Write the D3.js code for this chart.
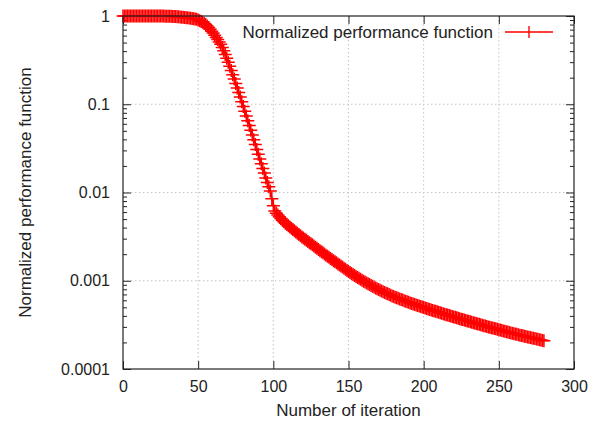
<!DOCTYPE html>
<html>
<head>
<meta charset="utf-8">
<script src="https://cdn.jsdelivr.net/npm/d3@7"></script>
<style>
  html, body { margin: 0; padding: 0; background: #fff; }
  svg { display: block; font-family: "Liberation Sans", Arial, Helvetica, sans-serif; }
</style>
</head>
<body>
<svg id="chart" width="600" height="423"></svg>
<script>
// Normalized performance function per training iteration (log scale)
const performance = [
  1, 1, 1, 1, 1, 1, 1, 1, 1, 1,
  1, 1, 1, 1, 1, 1, 1, 1, 1, 1,
  1, 1, 1, 1, 1, 0.999, 0.998, 0.997, 0.996, 0.995,
  0.994, 0.993, 0.992, 0.990, 0.987, 0.985, 0.982, 0.978, 0.975, 0.971,
  0.966, 0.962, 0.957, 0.953, 0.948, 0.944, 0.938, 0.931, 0.923, 0.916,
  0.902, 0.885, 0.867, 0.847, 0.824, 0.800, 0.771, 0.740, 0.706, 0.673,
  0.640, 0.605, 0.571, 0.540, 0.508, 0.479, 0.441, 0.403, 0.366, 0.332,
  0.299, 0.269, 0.242, 0.216, 0.193, 0.172, 0.153, 0.136, 0.121, 0.107,
  0.0944, 0.0834, 0.0736, 0.0650, 0.0574, 0.0507, 0.0448, 0.0395, 0.0349, 0.0308,
  0.0272, 0.0240, 0.0212, 0.0187, 0.0166, 0.0146, 0.0130, 0.0116, 0.0104, 0.00851,
  0.00708, 0.00617, 0.00582, 0.00556, 0.00531, 0.00507, 0.00484, 0.00465, 0.00449, 0.00435,
  0.00420, 0.00406, 0.00394, 0.00381, 0.00368, 0.00356, 0.00345, 0.00334, 0.00324, 0.00314,
  0.00305, 0.00296, 0.00287, 0.00279, 0.00270, 0.00262, 0.00255, 0.00247, 0.00240, 0.00233,
  0.00226, 0.00219, 0.00213, 0.00207, 0.00201, 0.00195, 0.00190, 0.00185, 0.00179, 0.00174,
  0.00169, 0.00164, 0.00160, 0.00155, 0.00151, 0.00147, 0.00143, 0.00139, 0.00135, 0.00131,
  0.00127, 0.00124, 0.00121, 0.00118, 0.00115, 0.00112, 0.00109, 0.00107, 0.00104, 0.00101,
  0.000989, 0.000967, 0.000946, 0.000926, 0.000906, 0.000886, 0.000867, 0.000848, 0.000830, 0.000812,
  0.000794, 0.000780, 0.000766, 0.000752, 0.000738, 0.000724, 0.000711, 0.000698, 0.000685, 0.000673,
  0.000661, 0.000651, 0.000641, 0.000632, 0.000622, 0.000613, 0.000604, 0.000595, 0.000586, 0.000577,
  0.000569, 0.000561, 0.000554, 0.000546, 0.000539, 0.000532, 0.000525, 0.000518, 0.000511, 0.000504,
  0.000498, 0.000491, 0.000485, 0.000479, 0.000473, 0.000467, 0.000461, 0.000455, 0.000450, 0.000444,
  0.000439, 0.000433, 0.000428, 0.000423, 0.000418, 0.000413, 0.000408, 0.000403, 0.000398, 0.000394,
  0.000389, 0.000385, 0.000380, 0.000376, 0.000372, 0.000367, 0.000363, 0.000359, 0.000355, 0.000351,
  0.000347, 0.000343, 0.000339, 0.000335, 0.000332, 0.000328, 0.000324, 0.000321, 0.000317, 0.000314,
  0.000310, 0.000307, 0.000304, 0.000300, 0.000297, 0.000294, 0.000291, 0.000288, 0.000285, 0.000282,
  0.000279, 0.000276, 0.000273, 0.000270, 0.000267, 0.000265, 0.000262, 0.000259, 0.000256, 0.000254,
  0.000251, 0.000249, 0.000247, 0.000244, 0.000242, 0.000240, 0.000238, 0.000235, 0.000233, 0.000231,
  0.000229, 0.000227, 0.000225, 0.000223, 0.000221, 0.000219, 0.000217, 0.000215, 0.000213, 0.000211,
  0.000209
];
// Iteration number of each entry
const iterations = d3.range(performance.length);

const xTicks = [0, 50, 100, 150, 200, 250, 300];
const yTicks = [1, 0.1, 0.01, 0.001, 0.0001];
const yTickLabels = ["1", "0.1", "0.01", "0.001", "0.0001"];

const seriesName = "Normalized performance function";
const xTitle = "Number of iteration";
const yTitle = "Normalized performance function";

const margin = { left: 123, right: 26, top: 16, bottom: 54 };
const W = 600, H = 423;
const svg = d3.select("#chart");

const x = d3.scaleLinear().domain([0, 300]).range([margin.left, W - margin.right]);
const y = d3.scaleLog().domain([0.0001, 1]).range([H - margin.bottom, margin.top]);

const x0 = x.range()[0], x1 = x.range()[1];
const y0 = y.range()[0], y1 = y.range()[1];
const textColor = "#222";
const red = "#ff0000";

// dotted grid at inner major ticks
const grid = svg.append("g").attr("stroke", "#c4c4c4").attr("stroke-width", 1)
  .attr("stroke-dasharray", "1.5,2.5");
grid.selectAll("line.gx").data(xTicks.slice(1, -1)).join("line")
  .attr("x1", d => x(d)).attr("x2", d => x(d))
  .attr("y1", y1).attr("y2", y0);
grid.selectAll("line.gy").data(yTicks.slice(1, -1)).join("line")
  .attr("x1", x0).attr("x2", x1)
  .attr("y1", d => y(d)).attr("y2", d => y(d));

// axes with inward ticks
const tickFont = 16;
const titleFont = 17;
const bottomAxis = svg.append("g").attr("transform", `translate(0,${y0})`)
  .call(d3.axisBottom(x).tickValues(xTicks).tickSizeInner(-8).tickSizeOuter(0).tickPadding(12));
const topAxis = svg.append("g").attr("transform", `translate(0,${y1})`)
  .call(d3.axisTop(x).tickValues(xTicks).tickSizeInner(-8).tickSizeOuter(0).tickFormat(""));
const leftAxis = svg.append("g").attr("transform", `translate(${x0},0)`)
  .call(d3.axisLeft(y).tickValues(yTicks).tickSizeInner(-8).tickSizeOuter(0).tickPadding(13)
    .tickFormat((d, i) => yTickLabels[i]));
const rightAxis = svg.append("g").attr("transform", `translate(${x1},0)`)
  .call(d3.axisRight(y).tickValues(yTicks).tickSizeInner(-8).tickSizeOuter(0).tickFormat(""));

// log minor ticks (2..9 in each decade)
const minor = y.ticks().filter(v => !yTicks.some(t => Math.abs(t - v) / t < 1e-6));
const leftMinor = svg.append("g").attr("transform", `translate(${x0},0)`)
  .call(d3.axisLeft(y).tickValues(minor).tickSizeInner(-4).tickSizeOuter(0).tickFormat(""));
const rightMinor = svg.append("g").attr("transform", `translate(${x1},0)`)
  .call(d3.axisRight(y).tickValues(minor).tickSizeInner(-4).tickSizeOuter(0).tickFormat(""));

[bottomAxis, topAxis, leftAxis, rightAxis, leftMinor, rightMinor].forEach(g => {
  g.select(".domain").remove();
  g.selectAll(".tick line").attr("stroke", "#222").attr("stroke-width", 1);
  g.selectAll("text").attr("fill", textColor).style("font-size", tickFont + "px")
    .style("font-family", "'Liberation Sans', Arial, sans-serif");
});

// data: line plus cross markers
const plot = svg.append("g");
const line = d3.line().x((d, i) => x(iterations[i])).y(d => y(d));
plot.append("path").datum(performance)
  .attr("d", line).attr("fill", "none").attr("stroke", red).attr("stroke-width", 1.6);
const arm = 6.5;
plot.selectAll("path.pt").data(performance).join("path")
  .attr("class", "pt")
  .attr("transform", (d, i) => `translate(${x(iterations[i])},${y(d)})`)
  .attr("d", `M${-arm},0H${arm}M0,${-arm}V${arm}`)
  .attr("stroke", red).attr("stroke-width", 1.5).attr("fill", "none");

// frame on top
svg.append("rect")
  .attr("x", x0).attr("y", y1).attr("width", x1 - x0).attr("height", y0 - y1)
  .attr("fill", "none").attr("stroke", "#222").attr("stroke-width", 1.2);

// legend
const ly = 32;
svg.append("text").attr("x", 493).attr("y", ly).attr("dy", "0.35em")
  .attr("text-anchor", "end").attr("fill", textColor).style("font-size", titleFont + "px")
  .text(seriesName);
svg.append("line").attr("x1", 505).attr("x2", 553).attr("y1", ly).attr("y2", ly)
  .attr("stroke", red).attr("stroke-width", 1.4);
svg.append("line").attr("x1", 529).attr("x2", 529).attr("y1", ly - 6).attr("y2", ly + 6)
  .attr("stroke", red).attr("stroke-width", 1.4);

// axis titles
svg.append("text").attr("x", (x0 + x1) / 2).attr("y", 416)
  .attr("text-anchor", "middle").attr("fill", textColor).style("font-size", titleFont + "px")
  .text(xTitle);
svg.append("text")
  .attr("transform", `translate(31,${(y0 + y1) / 2}) rotate(-90)`)
  .attr("text-anchor", "middle").attr("fill", textColor).style("font-size", titleFont + "px")
  .text(yTitle);
</script>
</body>
</html>
